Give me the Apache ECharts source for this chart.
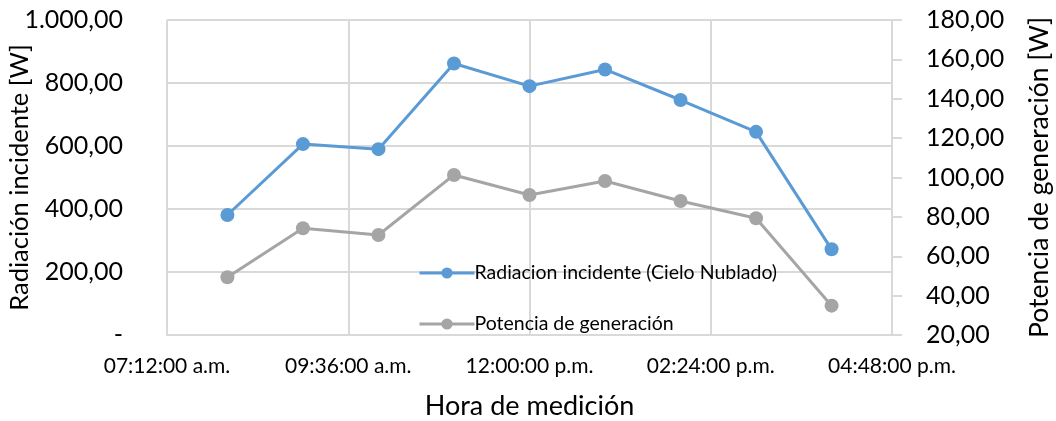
<!DOCTYPE html>
<html>
<head>
<meta charset="utf-8">
<script src="https://cdn.jsdelivr.net/npm/echarts@6/dist/echarts.min.js"></script>
<style>html,body{margin:0;padding:0;background:#fff;}#c{width:1056px;height:421px;}</style>
</head>
<body>
<div id="c"></div>
<script>
// Measurement times (hh:mm)
var times = ["08:00","09:00","10:00","11:00","12:00","13:00","14:00","15:00","16:00"];
// Radiacion incidente (Cielo Nublado) [W]
var radiacion = [381, 606, 590, 862, 790, 843, 746, 645, 272];
// Potencia de generación [W]
var potencia = [49.3, 74.2, 70.8, 101.3, 91.1, 98.2, 88.1, 79.3, 34.9];
// Axis tick settings (minutes of day for x)
var xMin = 432, xMax = 1008, xInterval = 144;
var leftTicks = [0, 1000, 200];
var rightTicks = [20, 180, 20];

function toMin(t){ var p = t.split(":"); return (+p[0])*60 + (+p[1]); }
function fmtTime(m){
  m = Math.round(m);
  var h = Math.floor(m/60), mm = m % 60;
  var suf = h >= 12 ? "p.m." : "a.m.";
  var h12 = h % 12; if (h12 === 0) h12 = 12;
  var pad = function(n){ return (n < 10 ? "0" : "") + n; };
  return pad(h12) + ":" + pad(mm) + ":00 " + suf;
}
function fmtNum(v){
  var s = v.toFixed(2).split(".");
  var i = s[0].replace(/\B(?=(\d{3})+(?!\d))/g, ".");
  return i + "," + s[1];
}
var font = "Lato";
var chart = echarts.init(document.getElementById("c"));
chart.setOption({
  animation: false,
  textStyle: { fontFamily: font },
  grid: { left: 167, right: 164, top: 20, bottom: 86, outerBoundsMode: "none", containLabel: false },
  legend: {
    orient: "vertical",
    left: 413, top: 258,
    itemGap: 31,
    itemWidth: 55, itemHeight: 14,
    lineStyle: { width: 3 },
    textStyle: { fontFamily: font, fontSize: 19.5, color: "#000", padding: [0, 0, 0, -5] },
    data: ["Radiacion incidente (Cielo Nublado)", "Potencia de generación"]
  },
  xAxis: {
    type: "value", min: xMin, max: xMax, interval: xInterval,
    name: "Hora de medición", nameLocation: "middle", nameGap: 58,
    nameTextStyle: { fontFamily: font, fontSize: 27, color: "#000" },
    axisLine: { show: true, lineStyle: { color: "#d9d9d9", width: 2 } },
    axisTick: { show: false },
    axisLabel: { formatter: fmtTime, fontSize: 21, color: "#000", margin: 21 },
    splitLine: { show: true, lineStyle: { color: "#d9d9d9", width: 2 } }
  },
  yAxis: [{
    type: "value", min: leftTicks[0], max: leftTicks[1], interval: leftTicks[2],
    name: "Radiación incidente [W]", nameLocation: "middle", nameGap: 134,
    nameMoveOverlap: false,
    nameTextStyle: { fontFamily: font, fontSize: 25.5, color: "#000" },
    axisLine: { show: false }, axisTick: { show: false },
    axisLabel: { formatter: function(v){ return v === 0 ? "-" : fmtNum(v); }, fontSize: 25, color: "#000", margin: 44 },
    splitLine: { show: true, lineStyle: { color: "#d9d9d9", width: 2 } }
  }, {
    type: "value", min: rightTicks[0], max: rightTicks[1], interval: rightTicks[2],
    position: "right",
    name: "Potencia de generación [W]", nameLocation: "middle", nameGap: 134,
    nameTextStyle: { fontFamily: font, fontSize: 26.5, color: "#000" },
    axisLine: { show: true, lineStyle: { color: "#d9d9d9", width: 2 } },
    axisTick: { show: true, length: 10, lineStyle: { color: "#d9d9d9", width: 2 } },
    axisLabel: { formatter: fmtNum, fontSize: 25, color: "#000", margin: 34 },
    splitLine: { show: false }
  }],
  series: [{
    name: "Radiacion incidente (Cielo Nublado)", type: "line", yAxisIndex: 0,
    data: times.map(function(t, i){ return [toMin(t), radiacion[i]]; }),
    symbol: "circle", symbolSize: 14,
    lineStyle: { color: "#5B9BD5", width: 3 },
    itemStyle: { color: "#5B9BD5" }
  }, {
    name: "Potencia de generación", type: "line", yAxisIndex: 1,
    data: times.map(function(t, i){ return [toMin(t), potencia[i]]; }),
    symbol: "circle", symbolSize: 14,
    lineStyle: { color: "#A5A5A5", width: 3 },
    itemStyle: { color: "#A5A5A5" }
  }]
});
</script>
</body>
</html>
